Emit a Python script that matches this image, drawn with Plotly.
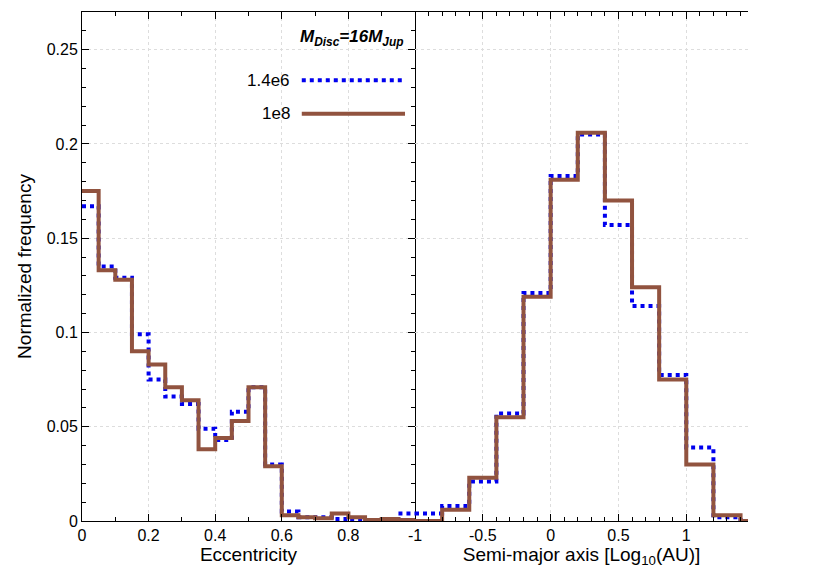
import plotly.graph_objects as go

ecc_edges = [round(0.05 * i, 2) for i in range(21)]
ecc_low = [0.167, 0.135, 0.129, 0.099, 0.075, 0.066, 0.062, 0.049, 0.043, 0.058,
           0.071, 0.030, 0.005, 0.002, 0.002, 0.001, 0.0003, 0.0005, 0.0003, 0.004]
ecc_high = [0.175, 0.133, 0.128, 0.090, 0.083, 0.071, 0.064, 0.038, 0.044, 0.053,
            0.071, 0.029, 0.003, 0.002, 0.0015, 0.004, 0.002, 0.0005, 0.001, 0.0005]

sma_edges = [round(-1.0 + 0.2 * i, 1) for i in range(14)]
sma_low = [0.004, 0.008, 0.021, 0.057, 0.121, 0.183, 0.205, 0.157, 0.114, 0.0775, 0.039, 0.002, 0.0]
sma_high = [0.0, 0.006, 0.023, 0.055, 0.119, 0.181, 0.206, 0.170, 0.124, 0.075, 0.030, 0.003, 0.0]

BLUE = "#0000ee"
BROWN = "#91533f"
FONT = "Liberation Sans"

fig = go.Figure()

def add(edges, vals, color, dash, xa):
    fig.add_trace(go.Scatter(x=edges, y=vals + [vals[-1]], mode="lines", line_shape="hv",
                             line=dict(color=color, width=4, dash=dash), xaxis=xa, yaxis="y",
                             showlegend=False, hoverinfo="skip"))

add(ecc_edges, ecc_low, BLUE, "dot", "x")
add(ecc_edges, ecc_high, BROWN, "solid", "x")
add(sma_edges, sma_low, BLUE, "dot", "x2")
add(sma_edges, sma_high, BROWN, "solid", "x2")

axcommon = dict(showline=True, linecolor="black", linewidth=1, mirror="ticks", ticks="inside",
                ticklen=7, tickcolor="black", showgrid=True, gridcolor="#dddddd", griddash="dot",
                zeroline=False, tickfont=dict(size=16, family=FONT, color="black"),
                minor=dict(ticks="inside", ticklen=4, tickcolor="black", showgrid=False))

fig.update_layout(
    width=830, height=581, plot_bgcolor="white", paper_bgcolor="white",
    margin=dict(l=74, r=90, t=4, b=68),
    font=dict(family=FONT, size=16, color="black"),
    xaxis=dict(axcommon, domain=[0, 0.5], range=[0, 1.0], tickvals=[0, 0.2, 0.4, 0.6, 0.8],
               ticktext=["0", "0.2", "0.4", "0.6", "0.8"], title=dict(text="Eccentricity", standoff=2),
               minor=dict(axcommon["minor"], dtick=0.1)),
    xaxis2=dict(axcommon, domain=[0.5, 1], range=[-1, 1.455], tickvals=[-1, -0.5, 0, 0.5, 1],
                ticktext=["-1", "-0.5", "0", "0.5", "1"],
                title=dict(text="Semi-major axis [Log<sub>10</sub>(AU)]", standoff=2),
                minor=dict(axcommon["minor"], dtick=0.1)),
    yaxis=dict(axcommon, range=[0, 0.27], tickvals=[0, 0.05, 0.1, 0.15, 0.2, 0.25],
               ticktext=["0", "0.05", "0.1", "0.15", "0.2", "0.25"],
               title=dict(text="Normalized frequency", standoff=10),
               minor=dict(axcommon["minor"], dtick=0.01)),
    yaxis2=dict(axcommon, overlaying="y", anchor="x2", range=[0, 0.27], showticklabels=False,
                showgrid=False, showline=False, minor=dict(axcommon["minor"], dtick=0.01)),
)

fig.add_annotation(xref="paper", yref="paper", x=0.485, y=0.975, xanchor="right", yanchor="top",
                   showarrow=False, text="<b><i>M<sub>Disc</sub>=16M<sub>Jup</sub></i></b>",
                   font=dict(size=17, family=FONT))
for i, (lab, col, dash) in enumerate([("1.4e6", BLUE, "dot"), ("1e8", BROWN, "solid")]):
    yy = 0.866 - i * 0.066
    fig.add_annotation(xref="paper", yref="paper", x=0.315, y=yy, xanchor="right", yanchor="middle",
                       showarrow=False, text=lab, font=dict(size=17, family=FONT))
    fig.add_shape(type="line", xref="paper", yref="paper", x0=0.33, x1=0.485, y0=yy, y1=yy,
                  line=dict(color=col, width=4, dash=dash))

fig.write_html("out.html")
